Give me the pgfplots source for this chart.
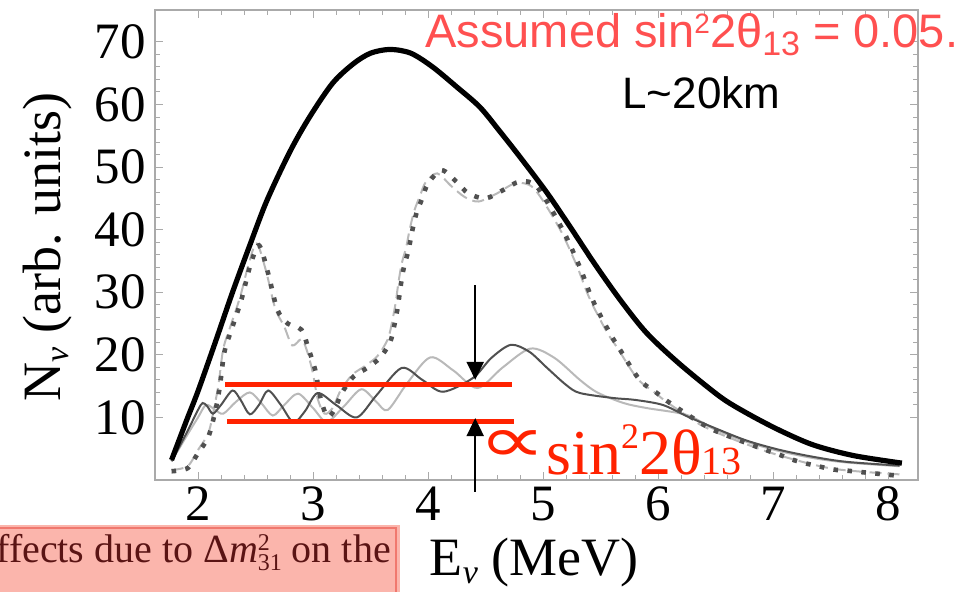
\documentclass[border=0pt]{standalone}
\usepackage{fontspec}
\setmainfont{Liberation Serif}
\newfontfamily\arialfont{Liberation Sans}
\newfontfamily\dejavu{DejaVu Sans}
\usepackage{pgfplots}
\pgfplotsset{compat=1.18}
\usetikzlibrary{arrows.meta}
\definecolor{redline}{RGB}{255,34,0}
\definecolor{redtext}{RGB}{255,80,80}
\definecolor{darkcurve}{RGB}{80,80,80}
\definecolor{lightcurve}{RGB}{185,185,185}
\definecolor{framegray}{RGB}{170,170,170}
\definecolor{pinkfill}{RGB}{250,168,158}
\definecolor{pinkborder}{RGB}{240,120,110}
\definecolor{boxtext}{RGB}{90,20,20}

\pgfplotstableread{
x y
1.77 3.2
1.9 9.5
2.0 14.2
2.15 22
2.3 30
2.45 37.5
2.6 44.7
2.8 52.5
2.97 58
3.17 63.4
3.35 66.5
3.5 68.2
3.67 68.8
3.85 68.2
4.04 66
4.25 62.8
4.45 59.6
4.62 55.8
4.8 51.6
5.03 46
5.23 40.6
5.45 34.5
5.67 28.8
5.9 23.5
6.19 18.5
6.54 13.3
6.77 10.7
7.05 8.0
7.35 5.6
7.7 3.9
8.12 2.7
}\noosc

\pgfplotstableread{
x y
1.77 1.4
1.91 1.9
2.0 4.3
2.09 6.9
2.15 11
2.19 15
2.23 20.5
2.3 24.5
2.38 29
2.45 34
2.53 37.5
2.61 33
2.69 27.2
2.78 25
2.9 24
2.96 21
3.02 17.5
3.06 13.5
3.12 10.2
3.18 11
3.25 13.9
3.35 16.5
3.47 17.9
3.58 19.5
3.67 22
3.71 25
3.74 28
3.76 30.8
3.79 34
3.83 36.7
3.86 39.6
3.9 42.7
3.95 45
4.0 47.4
4.12 49.5
4.25 47.6
4.35 45.8
4.5 45
4.65 46.3
4.8 47.7
4.95 46.8
5.17 40
5.32 34
5.43 28.8
5.58 23.5
5.67 20.8
5.84 16
5.99 13.9
6.08 12.6
6.37 9.1
6.48 8
6.77 5.9
7.06 4
7.23 2.9
7.52 1.7
7.64 1.5
8.02 0.8
8.12 0.7
}\solardark

\pgfplotstableread{
x y
1.77 1.6
1.91 2.2
2.0 4.8
2.09 7.5
2.14 11.5
2.18 15.5
2.22 21
2.29 25
2.37 29.5
2.44 34.5
2.51 37.8
2.59 33.5
2.67 27.5
2.75 24.5
2.82 21.5
2.9 22.5
2.95 20.5
3.0 17
3.04 13
3.1 10.6
3.17 11.5
3.24 14.3
3.34 16.8
3.45 18.2
3.56 19.8
3.65 22.5
3.69 25.5
3.72 28.5
3.74 31.2
3.77 34.5
3.81 37.2
3.84 40
3.88 43
3.93 45.4
3.98 47.6
4.08 49
4.2 47
4.32 45.2
4.44 44.5
4.6 45.8
4.76 47.4
4.92 46.6
5.14 40.3
5.29 34.4
5.4 29.2
5.55 23.8
5.65 21
5.82 16.2
5.97 14
6.08 12.4
6.37 8.8
6.48 7.8
6.77 5.7
7.06 3.9
7.52 1.8
8.1 0.9
}\solarlight

\pgfplotstableread{
x y
1.77 3.0
1.9 7.5
2.0 11.2
2.04 12.3
2.08 11.8
2.13 10.6
2.2 12
2.3 14.3
2.37 12.8
2.45 10.5
2.53 12
2.61 14.3
2.72 12
2.83 9.2
2.93 11
3.04 13.9
3.2 12
3.38 10
3.55 13.5
3.77 17.9
3.95 16
4.13 14.1
4.39 16.3
4.55 19.5
4.72 21.6
4.88 20.5
5.03 18
5.2 15.2
5.32 13.9
5.61 13.1
5.8 12.8
6.04 12
6.25 10.2
6.48 8.4
6.77 6.3
7.06 4.8
7.35 3.7
7.64 2.9
8.1 2.3
}\fulldark

\pgfplotstableread{
x y
1.77 3.0
1.9 7
2.0 10
2.07 12
2.15 11.2
2.22 10.6
2.33 12.5
2.45 14
2.55 12.3
2.65 10.3
2.75 12
2.87 13.8
3.0 11.5
3.12 9.3
3.27 11.8
3.42 14.5
3.55 12.5
3.65 11.2
3.82 15.5
4.02 19.6
4.22 17.5
4.43 14.7
4.65 18
4.89 21
5.1 19.5
5.32 16
5.47 14
5.7 12.3
5.9 11.5
6.25 10.4
6.48 8.2
6.77 6.1
7.06 4.6
7.35 3.5
7.64 2.8
8.1 2.2
}\fulllight

\begin{document}
\begin{tikzpicture}
\useasboundingbox (0,0) rectangle (480pt,295.5pt);
\begin{axis}[
  at={(77.5pt,55.5pt)}, anchor=south west,
  scale only axis, width=381.5pt, height=235pt,
  xmin=1.626, xmax=8.26, ymin=0, ymax=75.1,
  xtick={2,3,4,5,6,7,8}, ytick={10,20,30,40,50,60,70},
  minor x tick num=4, minor y tick num=4,
  axis line style={framegray, line width=0.6pt},
  tick style={framegray, line width=0.5pt},
  major tick length=4pt, minor tick length=2.5pt,
  tick align=inside,
  ticklabel style={font=\fontsize{25.5}{28}\selectfont, text=black},
  yticklabel style={xshift=-1pt},
  /pgf/number format/assume math mode=true,
  clip=false,
]
\addplot[lightcurve, line width=1pt, smooth] table[x=x,y=y] {\fulllight};
\addplot[lightcurve, line width=1pt, dash pattern=on 6pt off 3pt, smooth] table[x=x,y=y] {\solarlight};
\addplot[darkcurve, line width=1pt, smooth] table[x=x,y=y] {\fulldark};
\addplot[darkcurve, line width=2.3pt, dash pattern=on 2.3pt off 4.7pt, smooth] table[x=x,y=y] {\solardark};
\addplot[black, line width=2.6pt, smooth] table[x=x,y=y] {\noosc};
\addplot[redline, line width=2.6pt] coordinates {(2.235,15.2) (4.73,15.2)};
\addplot[redline, line width=2.6pt] coordinates {(2.25,9.4) (4.75,9.4)};
\draw[black, line width=1pt, -{Triangle[width=8.5pt,length=9pt]}] (axis cs:4.41,31.1) -- (axis cs:4.41,16);
\draw[black, line width=1pt, -{Triangle[width=8.5pt,length=9pt]}] (axis cs:4.41,-1.9) -- (axis cs:4.41,9.9);
\node[rotate=90, font=\fontsize{27}{30}\selectfont] at (rel axis cs:-0.1415,0.496) {N\raisebox{-4pt}{\fontsize{17}{17}\selectfont\itshape ν} (arb. units)};
\node[font=\fontsize{27}{30}\selectfont] at (rel axis cs:0.497,-0.176) {E\raisebox{-4pt}{\fontsize{17}{17}\selectfont\itshape ν} (MeV)};
\end{axis}
\begin{scope}[x=0.5pt,y=-0.5pt,shift={(0pt,295.5pt)}]
\node[anchor=base west, inner sep=0, text=redtext, font=\arialfont\fontsize{23.5}{26}\selectfont] at (425,47) {Assumed sin\raisebox{7pt}{\fontsize{14}{14}\selectfont 2}2θ\raisebox{-4pt}{\fontsize{17}{17}\selectfont 13} = 0.05.};
\node[anchor=base west, inner sep=0, font=\arialfont\fontsize{22}{24}\selectfont] at (622,108) {L\textasciitilde 20km};
\node[inner sep=0, text=redline] at (513,446) {\resizebox{34pt}{16pt}{\dejavu ∝}};
\node[anchor=base west, inner sep=0, text=redline, font=\fontsize{32}{34}\selectfont] at (546,474) {sin\raisebox{13pt}{\fontsize{18}{18}\selectfont 2}2θ{\fontsize{20}{20}\selectfont 13}};
\fill[pinkfill, opacity=0.85] (0,525) rectangle (400,595);
\draw[pinkborder, line width=0.8pt] (-2,528) -- (396,528) -- (396,595);
\node[anchor=base west, inner sep=0, text=boxtext, font=\fontsize{20}{24}\selectfont] at (-4,562) {ffects due to Δ\textit{m}\raisebox{6pt}{\fontsize{12}{12}\selectfont 2}\kern-6pt\raisebox{-4pt}{\fontsize{12}{12}\selectfont 31} on the};
\end{scope}
\end{tikzpicture}
\end{document}
